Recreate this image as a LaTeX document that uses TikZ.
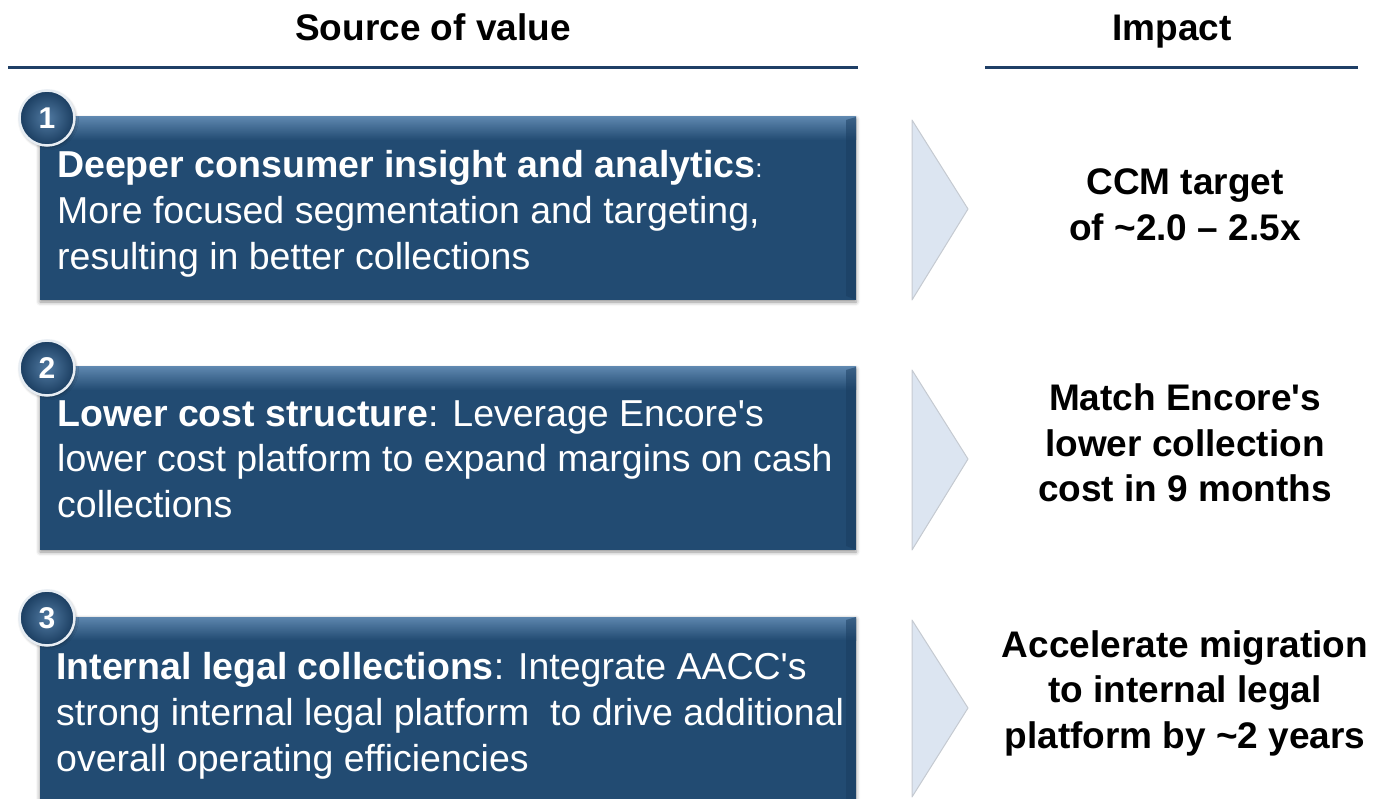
\documentclass[tikz,border=0pt]{standalone}
\usepackage{fontspec}
\setmainfont{Liberation Sans}
\usetikzlibrary{shadows.blur}
\definecolor{navy}{HTML}{1F3F66}
\definecolor{boxmain}{HTML}{224B72}
\definecolor{boxtop}{HTML}{5D86AE}
\definecolor{boxdark}{HTML}{1A3D60}
\definecolor{chevfill}{HTML}{DCE5F1}
\definecolor{chevline}{HTML}{C5CAD1}
\newcommand{\apos}{\textquotesingle}
\tikzset{
  x=1pt, y=-1pt,
  hdr/.style={font=\fontsize{37}{44}\selectfont\bfseries, text=black, anchor=base},
  hline/.style={draw=navy, line width=3pt},
  srcbox/.style={draw=none, fill=boxmain, blur shadow={shadow xshift=0pt, shadow yshift=-2pt, shadow blur radius=4pt, shadow opacity=45}},
  topglow/.style={top color=boxtop, bottom color=boxmain, draw=none},
  numcirc/.style={circle, minimum size=55pt, inner sep=0pt, draw=white!85!boxtop, line width=2.5pt,
    inner color=boxtop!80!boxmain, outer color=boxdark, text=white, font=\fontsize{30}{34}\selectfont\bfseries,
    blur shadow={shadow xshift=1pt, shadow yshift=-1.5pt, shadow blur radius=3pt, shadow opacity=40}},
  srctext/.style={anchor=north west, align=left, text=white, inner sep=0pt, font=\fontsize{37.5}{46}\selectfont},
  chev/.style={fill=chevfill, draw=chevline, line width=1pt, line join=round},
  imptext/.style={anchor=center, align=center, inner sep=0pt, text=black, font=\fontsize{37}{45.5}\selectfont\bfseries}
}
\begin{document}
\begin{tikzpicture}
\useasboundingbox (0,0) rectangle (1385,799);
% headers
\node[hdr] (hsrc) at (433,41) {Source of value};
\node[hdr] (himp) at (1172,41) {Impact};
\draw[hline] (8,68) -- (858,68);
\draw[hline] (985,68) -- (1358,68);

% box 1
\fill[srcbox] (40,117) rectangle (856,300);
\fill[topglow] (40,117) rectangle (856,140);
\fill[boxdark, opacity=0.5] (846,120) -- (856,117) -- (856,300) -- (846,296) -- cycle;
\node[numcirc] (n1) at (47,118) {1};
\node[srctext] (t1) at (57,150) {\textbf{Deeper consumer insight and analytics}{\fontsize{26}{30}\selectfont:}\\More focused segmentation and targeting,\\resulting in better collections};
\filldraw[chev] (912,120) -- (968,209) -- (912,300) -- cycle;
\node[imptext] (i1) at (1185,205) {CCM target\\of \textasciitilde 2.0 -- 2.5x};

% box 2
\fill[srcbox] (40,367) rectangle (856,550);
\fill[topglow] (40,367) rectangle (856,390);
\fill[boxdark, opacity=0.5] (846,370) -- (856,367) -- (856,550) -- (846,546) -- cycle;
\node[numcirc] (n2) at (47,368) {2};
\node[srctext] (t2) at (57,400) {\textbf{Lower cost structure}: Leverage Encore\apos s\\lower cost platform to expand margins on cash\\collections};
\filldraw[chev] (912,370) -- (968,459) -- (912,550) -- cycle;
\node[imptext] (i2) at (1185,443) {Match Encore\apos s\\lower collection\\cost in 9 months};

% box 3
\fill[srcbox] (40,617) rectangle (856,810);
\fill[topglow] (40,617) rectangle (856,640);
\fill[boxdark, opacity=0.5] (846,620) -- (856,617) -- (856,810) -- (846,806) -- cycle;
\node[numcirc] (n3) at (47,618) {3};
\node[srctext] (t3) at (56,652) {\textbf{Internal legal collections}: Integrate AACC\apos s\\strong internal legal platform\ \ to drive additional\\overall operating efficiencies};
\filldraw[chev] (912,620) -- (968,708) -- (912,797) -- cycle;
\node[imptext] (i3) at (1185,693) {Accelerate migration\\to internal legal\\platform by \textasciitilde 2 years};
\end{tikzpicture}
\end{document}
